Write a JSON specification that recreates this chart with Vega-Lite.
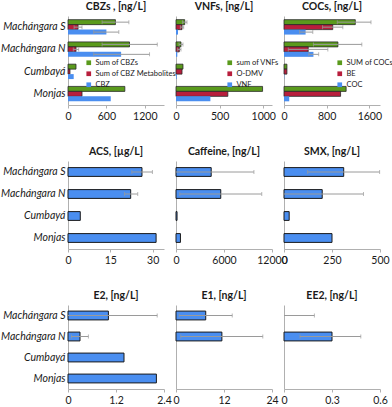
{
  "$schema": "https://vega.github.io/schema/vega-lite/v6.json",
  "padding": {"left": 0, "top": 1, "right": 0, "bottom": 0},
  "data": {"values": [
    {"panel": "CBZ", "site": "Machángara S", "series": "Sum of CBZs", "value": 741, "lo": 533, "hi": 951},
    {"panel": "CBZ", "site": "Machángara S", "series": "Sum of CBZ Metabolites", "value": 157, "lo": 95, "hi": 219},
    {"panel": "CBZ", "site": "Machángara S", "series": "CBZ", "value": 600, "lo": 402, "hi": 794},
    {"panel": "CBZ", "site": "Machángara N", "series": "Sum of CBZs", "value": 961, "lo": 533, "hi": 1395},
    {"panel": "CBZ", "site": "Machángara N", "series": "Sum of CBZ Metabolites", "value": 125, "lo": 83, "hi": 167},
    {"panel": "CBZ", "site": "Machángara N", "series": "CBZ", "value": 830, "lo": 402, "hi": 1274},
    {"panel": "CBZ", "site": "Cumbayá", "series": "Sum of CBZs", "value": 125},
    {"panel": "CBZ", "site": "Cumbayá", "series": "Sum of CBZ Metabolites", "value": 31},
    {"panel": "CBZ", "site": "Cumbayá", "series": "CBZ", "value": 89},
    {"panel": "CBZ", "site": "Monjas", "series": "Sum of CBZs", "value": 888},
    {"panel": "CBZ", "site": "Monjas", "series": "Sum of CBZ Metabolites", "value": 219},
    {"panel": "CBZ", "site": "Monjas", "series": "CBZ", "value": 668},

    {"panel": "VNF", "site": "Machángara S", "series": "sum of VNFs", "value": 100, "lo": 74, "hi": 126},
    {"panel": "VNF", "site": "Machángara S", "series": "O-DMV", "value": 69, "lo": 50, "hi": 88},
    {"panel": "VNF", "site": "Machángara S", "series": "VNF", "value": 23},
    {"panel": "VNF", "site": "Machángara N", "series": "sum of VNFs", "value": 57, "lo": 34, "hi": 80},
    {"panel": "VNF", "site": "Machángara N", "series": "O-DMV", "value": 38, "lo": 19, "hi": 57},
    {"panel": "VNF", "site": "Machángara N", "series": "VNF", "value": 15},
    {"panel": "VNF", "site": "Cumbayá", "series": "sum of VNFs", "value": 80},
    {"panel": "VNF", "site": "Cumbayá", "series": "O-DMV", "value": 69},
    {"panel": "VNF", "site": "Cumbayá", "series": "VNF", "value": 8},
    {"panel": "VNF", "site": "Monjas", "series": "sum of VNFs", "value": 992},
    {"panel": "VNF", "site": "Monjas", "series": "O-DMV", "value": 594},
    {"panel": "VNF", "site": "Monjas", "series": "VNF", "value": 394},

    {"panel": "COC", "site": "Machángara S", "series": "SUM of COCs", "value": 1337, "lo": 999, "hi": 1631},
    {"panel": "COC", "site": "Machángara S", "series": "BE", "value": 914, "lo": 723, "hi": 1103},
    {"panel": "COC", "site": "Machángara S", "series": "COC", "value": 405, "lo": 294, "hi": 540},
    {"panel": "COC", "site": "Machángara N", "series": "SUM of COCs", "value": 1011, "lo": 552, "hi": 1459},
    {"panel": "COC", "site": "Machángara N", "series": "BE", "value": 454, "lo": 80, "hi": 822},
    {"panel": "COC", "site": "Machángara N", "series": "COC", "value": 552, "lo": 466, "hi": 650},
    {"panel": "COC", "site": "Cumbayá", "series": "SUM of COCs", "value": 55},
    {"panel": "COC", "site": "Cumbayá", "series": "BE", "value": 55},
    {"panel": "COC", "site": "Cumbayá", "series": "COC", "value": 5},
    {"panel": "COC", "site": "Monjas", "series": "SUM of COCs", "value": 1165},
    {"panel": "COC", "site": "Monjas", "series": "BE", "value": 1061},
    {"panel": "COC", "site": "Monjas", "series": "COC", "value": 98},

    {"panel": "ACS", "site": "Machángara S", "value": 26.2, "lo": 22.6, "hi": 29.9},
    {"panel": "ACS", "site": "Machángara N", "value": 22.2, "lo": 20.0, "hi": 24.7},
    {"panel": "ACS", "site": "Cumbayá", "value": 4.35},
    {"panel": "ACS", "site": "Monjas", "value": 31.2},

    {"panel": "CAF", "site": "Machángara S", "value": 4400, "lo": 0, "hi": 9740},
    {"panel": "CAF", "site": "Machángara N", "value": 5594, "lo": 470, "hi": 10718},
    {"panel": "CAF", "site": "Cumbayá", "value": 130},
    {"panel": "CAF", "site": "Monjas", "value": 555},

    {"panel": "SMX", "site": "Machángara S", "value": 311, "lo": 123, "hi": 498},
    {"panel": "SMX", "site": "Machángara N", "value": 199, "lo": 0, "hi": 414},
    {"panel": "SMX", "site": "Cumbayá", "value": 27},
    {"panel": "SMX", "site": "Monjas", "value": 250},

    {"panel": "E2", "site": "Machángara S", "value": 1.01, "lo": 0, "hi": 2.23},
    {"panel": "E2", "site": "Machángara N", "value": 0.30, "lo": 0.085, "hi": 0.51},
    {"panel": "E2", "site": "Cumbayá", "value": 1.40},
    {"panel": "E2", "site": "Monjas", "value": 2.21},

    {"panel": "E1", "site": "Machángara S", "value": 7.43, "lo": 0.8, "hi": 14.06},
    {"panel": "E1", "site": "Machángara N", "value": 11.47, "lo": 1.2, "hi": 21.7},
    {"panel": "E1", "site": "Cumbayá", "value": 0},
    {"panel": "E1", "site": "Monjas", "value": 0},

    {"panel": "EE2", "site": "Machángara S", "value": 0, "lo": 0, "hi": 0.19},
    {"panel": "EE2", "site": "Machángara N", "value": 0.30, "lo": 0.10, "hi": 0.48},
    {"panel": "EE2", "site": "Cumbayá", "value": 0},
    {"panel": "EE2", "site": "Monjas", "value": 0}
  ]},
  "columns": 3,
  "spacing": {"row": 56, "column": 12},
  "bounds": "flush",
  "resolve": {
    "scale": {"color": "independent", "x": "independent", "y": "independent", "yOffset": "independent", "stroke": "independent"},
    "legend": {"color": "independent"}
  },
  "concat": [
    {
      "title": "CBZs , [ng/L]",
      "width": 96, "height": 89,
      "transform": [{"filter": "datum.panel === 'CBZ'"}],
      "encoding": {
        "y": {"field": "site", "type": "nominal", "scale": {"domain": ["Machángara S", "Machángara N", "Cumbayá", "Monjas"], "paddingInner": 0.33, "paddingOuter": 0.165}, "axis": {"title": null, "ticks": false, "labelFontStyle": "italic", "labelFontSize": 10.5, "labelPadding": 3}},
        "yOffset": {"field": "series", "type": "nominal", "scale": {"domain": ["Sum of CBZs", "Sum of CBZ Metabolites", "CBZ"], "paddingInner": 0, "paddingOuter": 0}}
      },
      "layer": [
        {"mark": {"type": "bar", "strokeWidth": 0.8},
         "encoding": {
           "x": {"field": "value", "type": "quantitative", "scale": {"domain": [0, 1500], "nice": false}, "axis": {"title": null, "values": [0, 600, 1200], "labelExpr": "'' + datum.value"}},
           "color": {"field": "series", "type": "nominal", "scale": {"domain": ["Sum of CBZs", "Sum of CBZ Metabolites", "CBZ"], "range": ["#5a9a1c", "#b81e3c", "#4a8ef0"]}, "legend": {"title": null, "orient": "none", "legendX": 17, "legendY": 43}},
           "stroke": {"field": "series", "type": "nominal", "scale": {"domain": ["Sum of CBZs", "Sum of CBZ Metabolites", "CBZ"], "range": ["#2a2a2a", "#2a2a2a", "transparent"]}, "legend": null}
         }},
        {"transform": [{"filter": "isValid(datum.hi)"}], "mark": {"type": "rule", "color": "#9a9a9a", "strokeWidth": 1}, "encoding": {"x": {"field": "lo", "type": "quantitative"}, "x2": {"field": "hi"}}},
        {"transform": [{"filter": "isValid(datum.hi)"}], "mark": {"type": "tick", "orient": "vertical", "size": 4, "thickness": 1, "color": "#9a9a9a"}, "encoding": {"x": {"field": "hi", "type": "quantitative"}}},
        {"transform": [{"filter": "isValid(datum.lo) && datum.lo > 0"}], "mark": {"type": "tick", "orient": "vertical", "size": 4, "thickness": 1, "color": "#9a9a9a"}, "encoding": {"x": {"field": "lo", "type": "quantitative"}}}
      ]
    },
    {
      "title": "VNFs, [ng/L]",
      "width": 96, "height": 89,
      "transform": [{"filter": "datum.panel === 'VNF'"}],
      "encoding": {
        "y": {"field": "site", "type": "nominal", "scale": {"domain": ["Machángara S", "Machángara N", "Cumbayá", "Monjas"], "paddingInner": 0.33, "paddingOuter": 0.165}, "axis": {"title": null, "ticks": false, "labels": false}},
        "yOffset": {"field": "series", "type": "nominal", "scale": {"domain": ["sum of VNFs", "O-DMV", "VNF"], "paddingInner": 0, "paddingOuter": 0}}
      },
      "layer": [
        {"mark": {"type": "bar", "strokeWidth": 0.8},
         "encoding": {
           "x": {"field": "value", "type": "quantitative", "scale": {"domain": [0, 1100], "nice": false}, "axis": {"title": null, "values": [0, 500, 1000], "labelExpr": "'' + datum.value"}},
           "color": {"field": "series", "type": "nominal", "scale": {"domain": ["sum of VNFs", "O-DMV", "VNF"], "range": ["#5a9a1c", "#b81e3c", "#4a8ef0"]}, "legend": {"title": null, "orient": "none", "legendX": 50, "legendY": 43}},
           "stroke": {"field": "series", "type": "nominal", "scale": {"domain": ["sum of VNFs", "O-DMV", "VNF"], "range": ["#2a2a2a", "#2a2a2a", "transparent"]}, "legend": null}
         }},
        {"transform": [{"filter": "isValid(datum.hi)"}], "mark": {"type": "rule", "color": "#9a9a9a", "strokeWidth": 1}, "encoding": {"x": {"field": "lo", "type": "quantitative"}, "x2": {"field": "hi"}}},
        {"transform": [{"filter": "isValid(datum.hi)"}], "mark": {"type": "tick", "orient": "vertical", "size": 4, "thickness": 1, "color": "#9a9a9a"}, "encoding": {"x": {"field": "hi", "type": "quantitative"}}},
        {"transform": [{"filter": "isValid(datum.lo) && datum.lo > 0"}], "mark": {"type": "tick", "orient": "vertical", "size": 4, "thickness": 1, "color": "#9a9a9a"}, "encoding": {"x": {"field": "lo", "type": "quantitative"}}}
      ]
    },
    {
      "title": "COCs, [ng/L]",
      "width": 96, "height": 89,
      "transform": [{"filter": "datum.panel === 'COC'"}],
      "encoding": {
        "y": {"field": "site", "type": "nominal", "scale": {"domain": ["Machángara S", "Machángara N", "Cumbayá", "Monjas"], "paddingInner": 0.33, "paddingOuter": 0.165}, "axis": {"title": null, "ticks": false, "labels": false}},
        "yOffset": {"field": "series", "type": "nominal", "scale": {"domain": ["SUM of COCs", "BE", "COC"], "paddingInner": 0, "paddingOuter": 0}}
      },
      "layer": [
        {"mark": {"type": "bar", "strokeWidth": 0.8},
         "encoding": {
           "x": {"field": "value", "type": "quantitative", "scale": {"domain": [0, 1800], "nice": false}, "axis": {"title": null, "values": [0, 800, 1600], "labelExpr": "'' + datum.value"}},
           "color": {"field": "series", "type": "nominal", "scale": {"domain": ["SUM of COCs", "BE", "COC"], "range": ["#5a9a1c", "#b81e3c", "#4a8ef0"]}, "legend": {"title": null, "orient": "none", "legendX": 52, "legendY": 43}},
           "stroke": {"field": "series", "type": "nominal", "scale": {"domain": ["SUM of COCs", "BE", "COC"], "range": ["#2a2a2a", "#2a2a2a", "transparent"]}, "legend": null}
         }},
        {"transform": [{"filter": "isValid(datum.hi)"}], "mark": {"type": "rule", "color": "#9a9a9a", "strokeWidth": 1}, "encoding": {"x": {"field": "lo", "type": "quantitative"}, "x2": {"field": "hi"}}},
        {"transform": [{"filter": "isValid(datum.hi)"}], "mark": {"type": "tick", "orient": "vertical", "size": 4, "thickness": 1, "color": "#9a9a9a"}, "encoding": {"x": {"field": "hi", "type": "quantitative"}}},
        {"transform": [{"filter": "isValid(datum.lo) && datum.lo > 0"}], "mark": {"type": "tick", "orient": "vertical", "size": 4, "thickness": 1, "color": "#9a9a9a"}, "encoding": {"x": {"field": "lo", "type": "quantitative"}}}
      ]
    },
    {
      "title": "ACS, [µg/L]",
      "width": 96, "height": 88,
      "transform": [{"filter": "datum.panel === 'ACS'"}],
      "encoding": {
        "y": {"field": "site", "type": "nominal", "scale": {"domain": ["Machángara S", "Machángara N", "Cumbayá", "Monjas"], "paddingInner": 0.6, "paddingOuter": 0.3}, "axis": {"title": null, "ticks": false, "labelFontStyle": "italic", "labelFontSize": 10.5, "labelPadding": 3}}
      },
      "layer": [
        {"mark": {"type": "bar", "color": "#4a8ef0", "stroke": "#1a1a1a", "strokeWidth": 1},
         "encoding": {"x": {"field": "value", "type": "quantitative", "scale": {"domain": [0, 34], "nice": false}, "axis": {"title": null, "values": [0, 15, 30], "labelExpr": "'' + datum.value"}}}},
        {"transform": [{"filter": "isValid(datum.hi)"}], "mark": {"type": "rule", "color": "#9a9a9a", "strokeWidth": 1}, "encoding": {"x": {"field": "lo", "type": "quantitative"}, "x2": {"field": "hi"}}},
        {"transform": [{"filter": "isValid(datum.hi)"}], "mark": {"type": "tick", "orient": "vertical", "size": 4, "thickness": 1, "color": "#9a9a9a"}, "encoding": {"x": {"field": "hi", "type": "quantitative"}}},
        {"transform": [{"filter": "isValid(datum.lo) && datum.lo > 0"}], "mark": {"type": "tick", "orient": "vertical", "size": 4, "thickness": 1, "color": "#9a9a9a"}, "encoding": {"x": {"field": "lo", "type": "quantitative"}}}
      ]
    },
    {
      "title": "Caffeine, [ng/L]",
      "width": 96, "height": 88,
      "transform": [{"filter": "datum.panel === 'CAF'"}],
      "encoding": {
        "y": {"field": "site", "type": "nominal", "scale": {"domain": ["Machángara S", "Machángara N", "Cumbayá", "Monjas"], "paddingInner": 0.6, "paddingOuter": 0.3}, "axis": {"title": null, "ticks": false, "labels": false}}
      },
      "layer": [
        {"mark": {"type": "bar", "color": "#4a8ef0", "stroke": "#1a1a1a", "strokeWidth": 1},
         "encoding": {"x": {"field": "value", "type": "quantitative", "scale": {"domain": [0, 12000], "nice": false}, "axis": {"title": null, "values": [0, 6000, 12000], "labelExpr": "'' + datum.value"}}}},
        {"transform": [{"filter": "isValid(datum.hi)"}], "mark": {"type": "rule", "color": "#9a9a9a", "strokeWidth": 1}, "encoding": {"x": {"field": "lo", "type": "quantitative"}, "x2": {"field": "hi"}}},
        {"transform": [{"filter": "isValid(datum.hi)"}], "mark": {"type": "tick", "orient": "vertical", "size": 4, "thickness": 1, "color": "#9a9a9a"}, "encoding": {"x": {"field": "hi", "type": "quantitative"}}},
        {"transform": [{"filter": "isValid(datum.lo) && datum.lo > 0"}], "mark": {"type": "tick", "orient": "vertical", "size": 4, "thickness": 1, "color": "#9a9a9a"}, "encoding": {"x": {"field": "lo", "type": "quantitative"}}}
      ]
    },
    {
      "title": "SMX, [ng/L]",
      "width": 96, "height": 88,
      "transform": [{"filter": "datum.panel === 'SMX'"}],
      "encoding": {
        "y": {"field": "site", "type": "nominal", "scale": {"domain": ["Machángara S", "Machángara N", "Cumbayá", "Monjas"], "paddingInner": 0.6, "paddingOuter": 0.3}, "axis": {"title": null, "ticks": false, "labels": false}}
      },
      "layer": [
        {"mark": {"type": "bar", "color": "#4a8ef0", "stroke": "#1a1a1a", "strokeWidth": 1},
         "encoding": {"x": {"field": "value", "type": "quantitative", "scale": {"domain": [0, 500], "nice": false}, "axis": {"title": null, "values": [0, 250, 500], "labelExpr": "'' + datum.value"}}}},
        {"transform": [{"filter": "isValid(datum.hi)"}], "mark": {"type": "rule", "color": "#9a9a9a", "strokeWidth": 1}, "encoding": {"x": {"field": "lo", "type": "quantitative"}, "x2": {"field": "hi"}}},
        {"transform": [{"filter": "isValid(datum.hi)"}], "mark": {"type": "tick", "orient": "vertical", "size": 4, "thickness": 1, "color": "#9a9a9a"}, "encoding": {"x": {"field": "hi", "type": "quantitative"}}},
        {"transform": [{"filter": "isValid(datum.lo) && datum.lo > 0"}], "mark": {"type": "tick", "orient": "vertical", "size": 4, "thickness": 1, "color": "#9a9a9a"}, "encoding": {"x": {"field": "lo", "type": "quantitative"}}}
      ]
    },
    {
      "title": "E2, [ng/L]",
      "width": 96, "height": 84,
      "transform": [{"filter": "datum.panel === 'E2'"}],
      "encoding": {
        "y": {"field": "site", "type": "nominal", "scale": {"domain": ["Machángara S", "Machángara N", "Cumbayá", "Monjas"], "paddingInner": 0.58, "paddingOuter": 0.29}, "axis": {"title": null, "ticks": false, "labelFontStyle": "italic", "labelFontSize": 10.5, "labelPadding": 3}}
      },
      "layer": [
        {"mark": {"type": "bar", "color": "#4a8ef0", "stroke": "#1a1a1a", "strokeWidth": 1},
         "encoding": {"x": {"field": "value", "type": "quantitative", "scale": {"domain": [0, 2.4], "nice": false}, "axis": {"title": null, "values": [0, 1.2, 2.4], "labelExpr": "'' + datum.value"}}}},
        {"transform": [{"filter": "isValid(datum.hi)"}], "mark": {"type": "rule", "color": "#9a9a9a", "strokeWidth": 1}, "encoding": {"x": {"field": "lo", "type": "quantitative"}, "x2": {"field": "hi"}}},
        {"transform": [{"filter": "isValid(datum.hi)"}], "mark": {"type": "tick", "orient": "vertical", "size": 4, "thickness": 1, "color": "#9a9a9a"}, "encoding": {"x": {"field": "hi", "type": "quantitative"}}},
        {"transform": [{"filter": "isValid(datum.lo) && datum.lo > 0"}], "mark": {"type": "tick", "orient": "vertical", "size": 4, "thickness": 1, "color": "#9a9a9a"}, "encoding": {"x": {"field": "lo", "type": "quantitative"}}}
      ]
    },
    {
      "title": "E1, [ng/L]",
      "width": 96, "height": 84,
      "transform": [{"filter": "datum.panel === 'E1'"}],
      "encoding": {
        "y": {"field": "site", "type": "nominal", "scale": {"domain": ["Machángara S", "Machángara N", "Cumbayá", "Monjas"], "paddingInner": 0.58, "paddingOuter": 0.29}, "axis": {"title": null, "ticks": false, "labels": false}}
      },
      "layer": [
        {"transform": [{"filter": "datum.value > 0"}], "mark": {"type": "bar", "color": "#4a8ef0", "stroke": "#1a1a1a", "strokeWidth": 1},
         "encoding": {"x": {"field": "value", "type": "quantitative", "scale": {"domain": [0, 24], "nice": false}, "axis": {"title": null, "values": [0, 12, 24], "labelExpr": "'' + datum.value"}}}},
        {"transform": [{"filter": "isValid(datum.hi)"}], "mark": {"type": "rule", "color": "#9a9a9a", "strokeWidth": 1}, "encoding": {"x": {"field": "lo", "type": "quantitative"}, "x2": {"field": "hi"}}},
        {"transform": [{"filter": "isValid(datum.hi)"}], "mark": {"type": "tick", "orient": "vertical", "size": 4, "thickness": 1, "color": "#9a9a9a"}, "encoding": {"x": {"field": "hi", "type": "quantitative"}}},
        {"transform": [{"filter": "isValid(datum.lo) && datum.lo > 0"}], "mark": {"type": "tick", "orient": "vertical", "size": 4, "thickness": 1, "color": "#9a9a9a"}, "encoding": {"x": {"field": "lo", "type": "quantitative"}}}
      ]
    },
    {
      "title": "EE2, [ng/L]",
      "width": 96, "height": 84,
      "transform": [{"filter": "datum.panel === 'EE2'"}],
      "encoding": {
        "y": {"field": "site", "type": "nominal", "scale": {"domain": ["Machángara S", "Machángara N", "Cumbayá", "Monjas"], "paddingInner": 0.58, "paddingOuter": 0.29}, "axis": {"title": null, "ticks": false, "labels": false}}
      },
      "layer": [
        {"transform": [{"filter": "datum.value > 0"}], "mark": {"type": "bar", "color": "#4a8ef0", "stroke": "#1a1a1a", "strokeWidth": 1},
         "encoding": {"x": {"field": "value", "type": "quantitative", "scale": {"domain": [0, 0.6], "nice": false}, "axis": {"title": null, "values": [0, 0.3, 0.6], "labelExpr": "'' + datum.value"}}}},
        {"transform": [{"filter": "isValid(datum.hi)"}], "mark": {"type": "rule", "color": "#9a9a9a", "strokeWidth": 1}, "encoding": {"x": {"field": "lo", "type": "quantitative"}, "x2": {"field": "hi"}}},
        {"transform": [{"filter": "isValid(datum.hi)"}], "mark": {"type": "tick", "orient": "vertical", "size": 4, "thickness": 1, "color": "#9a9a9a"}, "encoding": {"x": {"field": "hi", "type": "quantitative"}}},
        {"transform": [{"filter": "isValid(datum.lo) && datum.lo > 0"}], "mark": {"type": "tick", "orient": "vertical", "size": 4, "thickness": 1, "color": "#9a9a9a"}, "encoding": {"x": {"field": "lo", "type": "quantitative"}}}
      ]
    }
  ],
  "config": {
    "font": "Lato",
    "view": {"stroke": null},
    "title": {"fontSize": 10.5, "fontWeight": "bold", "color": "#1a1a1a", "offset": 4},
    "axis": {"labelFont": "Lato", "labelColor": "#1a1a1a", "domainColor": "#b0b0b0", "tickColor": "#b0b0b0", "grid": false, "labelFlush": false, "labelOverlap": false},
    "axisX": {"labelFontSize": 10.5, "tickSize": 3, "labelPadding": 3},
    "axisY": {"labelLimit": 200},
    "legend": {"labelFontSize": 7.5, "symbolType": "square", "symbolSize": 22, "rowPadding": 2, "padding": 0, "labelLimit": 200, "labelOffset": 3, "labelColor": "#1a1a1a", "symbolStrokeWidth": 0}
  }
}
